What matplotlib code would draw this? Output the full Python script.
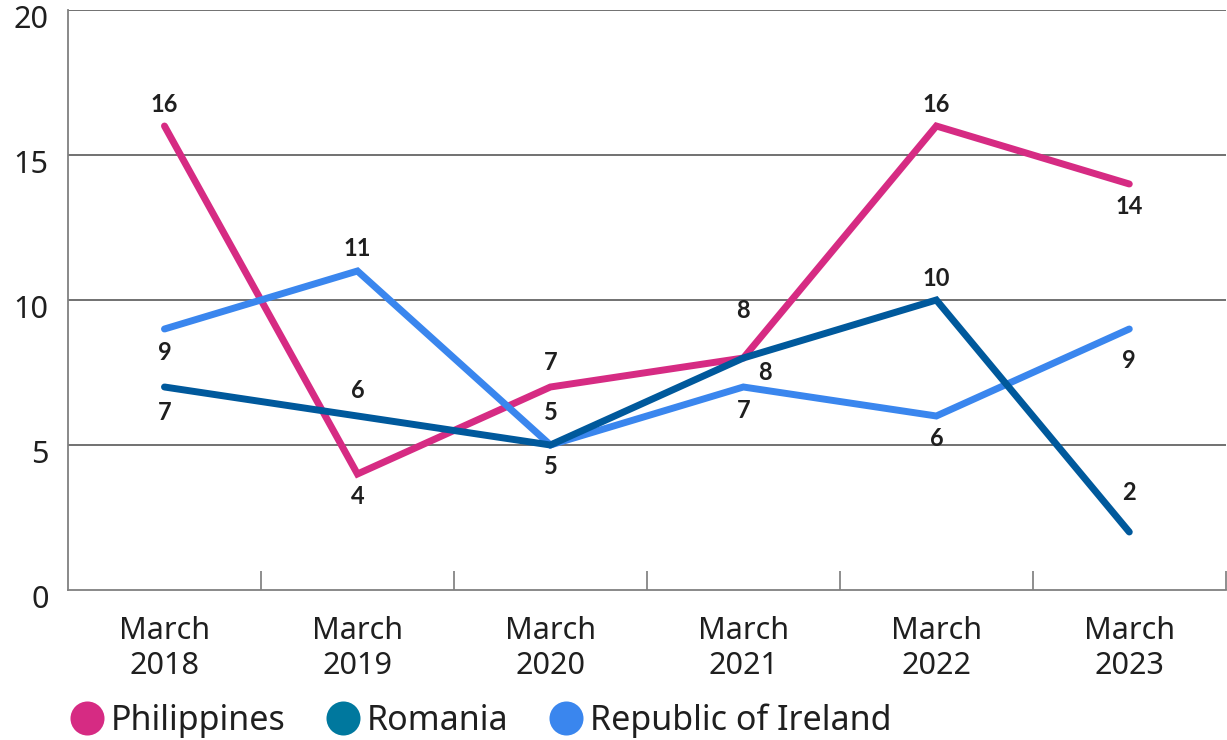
"""
Line chart: count by country, March 2018 to March 2023
"""
import matplotlib
matplotlib.use("Agg")
import matplotlib.pyplot as plt
import matplotlib.transforms as mtransforms
from matplotlib.lines import Line2D

# data
categories = ["March\n2018", "March\n2019", "March\n2020", "March\n2021", "March\n2022", "March\n2023"]
philippines = [16, 4, 7, 8, 16, 14]
romania = [7, 6, 5, 8, 10, 2]
ireland = [9, 11, 5, 7, 6, 9]
yticks = [0, 5, 10, 15, 20]

# label offsets in pixels (dx, dy), positive dy is up
phil_off = [(0, 22), (0, -23), (0, 24), (0, 48), (0, 22), (0, -22)]
rom_off = [(0, -26), (0, 26), (0, -22), (22, -14), (0, 22), (0, 40)]
ire_off = [(0, -23), (0, 22), (0, 33), (0, -23), (0, -22), (0, -31)]

plt.rcParams["font.family"] = ["Noto Sans", "DejaVu Sans"]

COL_PHIL = "#d62b83"
COL_ROM = "#00599c"
COL_ROM_LEG = "#00789e"
COL_IRE = "#3a86ee"
TXT = "#1f1f1f"


def label_points(ax, xs, ys, offs):
    for x, y, (dx, dy) in zip(xs, ys, offs):
        ax.annotate(str(y), (x, y), xytext=(dx, dy), textcoords="offset pixels",
                    ha="center", va="center", fontsize=17, fontweight="bold",
                    family=["Lato", "DejaVu Sans"], color=TXT)


def main():
    fig = plt.figure(figsize=(12.27, 7.40), dpi=100)
    ax = fig.add_axes([68 / 1227, 1 - 590 / 740, 1 - 68 / 1227 - 0.001, 580 / 740])
    xs = list(range(len(categories)))

    for yv in yticks[1:]:
        ax.axhline(yv, color="#4a4a4a", lw=1.1, zorder=1)

    ax.plot(xs, philippines, color=COL_PHIL, lw=5, solid_capstyle="round", solid_joinstyle="miter", zorder=3)
    ax.plot(xs, ireland, color=COL_IRE, lw=5, solid_capstyle="round", solid_joinstyle="miter", zorder=3)
    ax.plot(xs, romania, color=COL_ROM, lw=5, solid_capstyle="round", solid_joinstyle="miter", zorder=4)

    label_points(ax, xs, philippines, phil_off)
    label_points(ax, xs, romania, rom_off)
    label_points(ax, xs, ireland, ire_off)

    ax.set_xlim(-0.5, 5.5)
    ax.set_ylim(0, 20)
    ax.set_yticks(yticks)
    ax.set_yticklabels([str(v) for v in yticks])
    ax.tick_params(axis="y", length=0, pad=14, labelsize=22, labelcolor=TXT)
    # y labels sit a little below their gridline
    shift = mtransforms.ScaledTranslation(0, -10 / 100, fig.dpi_scale_trans)
    for lab in ax.get_yticklabels():
        lab.set_verticalalignment("center")
        lab.set_transform(lab.get_transform() + shift)

    ax.set_xticks(xs)
    ax.set_xticklabels(categories, fontsize=22, color=TXT, linespacing=1.2)
    ax.tick_params(axis="x", length=0, pad=19)
    # separator ticks between categories
    ax.set_xticks([i + 0.5 for i in xs], minor=True)
    ax.tick_params(axis="x", which="minor", direction="in", length=14, width=1.1, color="#707070")

    for s in ["top", "right"]:
        ax.spines[s].set_visible(False)
    ax.spines["left"].set_color("#808080")
    ax.spines["bottom"].set_color("#808080")
    ax.spines["left"].set_linewidth(1.3)
    ax.spines["bottom"].set_linewidth(1.3)

    handles = [
        Line2D([], [], ls="none", marker="o", ms=24.5, mfc=COL_PHIL, mec="none", label="Philippines"),
        Line2D([], [], ls="none", marker="o", ms=24.5, mfc=COL_ROM_LEG, mec="none", label="Romania"),
        Line2D([], [], ls="none", marker="o", ms=24.5, mfc=COL_IRE, mec="none", label="Republic of Ireland"),
    ]
    fig.legend(handles=handles, loc="center left", bbox_to_anchor=(39 / 1227, 1 - 721 / 740),
               ncol=3, frameon=False, fontsize=24.5, handlelength=1.0, handletextpad=0.2,
               columnspacing=1.2, labelcolor=TXT)

    fig.savefig("out.png", dpi=100)
    plt.close(fig)


if __name__ == "__main__":
    main()
